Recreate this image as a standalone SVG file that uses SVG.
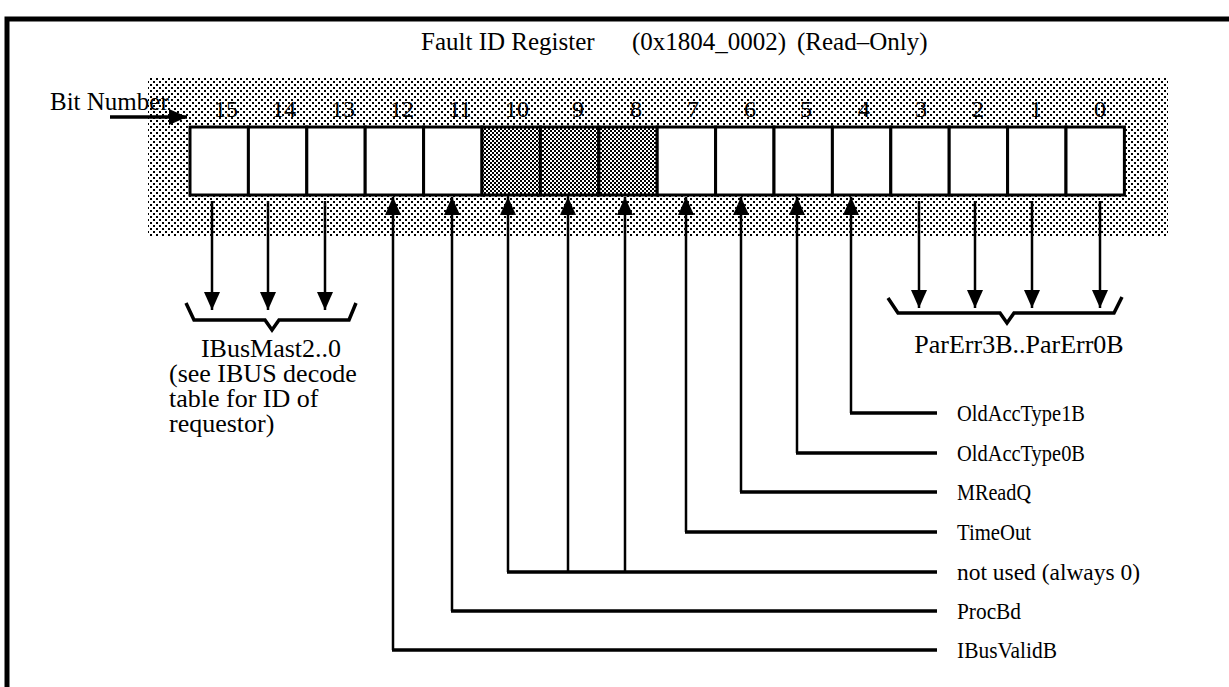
<svg xmlns="http://www.w3.org/2000/svg" width="1229" height="687" viewBox="0 0 1229 687">
<style>
text{font-family:"Liberation Serif","Times New Roman",serif;fill:#000}
.t{font-size:25px}
.n{font-size:24px;text-anchor:middle}
.l{font-size:23px}
.c{font-size:26px}
.box{fill:#fff;stroke:#000;stroke-width:3}
.dk{fill:url(#pd);stroke:#000;stroke-width:3}
.w{fill:none;stroke:#000;stroke-width:2.5}
.h{fill:none;stroke:#000;stroke-width:3.5}
</style>
<defs>
<pattern id="pl" width="6" height="6" patternUnits="userSpaceOnUse"><rect width="6" height="6" fill="#fff"/><rect width="2" height="2" fill="#000"/><rect x="3" y="3" width="2" height="2" fill="#000"/></pattern>
<pattern id="pd" width="4" height="4" patternUnits="userSpaceOnUse"><rect width="4" height="4" fill="#fff"/><rect width="2" height="2" fill="#000"/><rect x="2" y="2" width="2" height="2" fill="#000"/></pattern>
<marker id="ah" viewBox="0 0 18 16" refX="18" refY="8" markerWidth="18" markerHeight="16" markerUnits="userSpaceOnUse" orient="auto"><path d="M0,0 L18,8 L0,16 z" fill="#000"/></marker>
</defs>
<rect width="1229" height="687" fill="#fff"/>
<g id="frame"><path d="M7,687 V19 H1229" fill="none" stroke="#000" stroke-width="5"/></g>
<g id="title"><text class="t" y="50"><tspan x="421">Fault ID Register</tspan><tspan x="632">(0x1804_0002)</tspan><tspan x="797">(Read–Only)</tspan></text></g>
<g id="background"><rect x="148" y="78" width="1020" height="159" fill="url(#pl)"/></g>
<g id="bitlabel"><text x="50" y="110" style="font-size:25px">Bit Number</text></g>
<g id="register">
<g id="bit15"><rect class="box" x="190" y="127" width="58.4" height="68"/><text class="n" x="226" y="117">15</text></g>
<g id="bit14"><rect class="box" x="248.4" y="127" width="58.4" height="68"/><text class="n" x="284" y="117">14</text></g>
<g id="bit13"><rect class="box" x="306.8" y="127" width="58.4" height="68"/><text class="n" x="343" y="117">13</text></g>
<g id="bit12"><rect class="box" x="365.2" y="127" width="58.4" height="68"/><text class="n" x="402" y="117">12</text></g>
<g id="bit11"><rect class="box" x="423.6" y="127" width="58.4" height="68"/><text class="n" x="460" y="117">11</text></g>
<g id="bit10"><rect class="dk" x="482" y="127" width="58.4" height="68"/><text class="n" x="517" y="117">10</text></g>
<g id="bit9"><rect class="dk" x="540.4" y="127" width="58.4" height="68"/><text class="n" x="578" y="117">9</text></g>
<g id="bit8"><rect class="dk" x="598.8" y="127" width="58.4" height="68"/><text class="n" x="636" y="117">8</text></g>
<g id="bit7"><rect class="box" x="657.2" y="127" width="58.4" height="68"/><text class="n" x="693" y="117">7</text></g>
<g id="bit6"><rect class="box" x="715.6" y="127" width="58.4" height="68"/><text class="n" x="750" y="117">6</text></g>
<g id="bit5"><rect class="box" x="774" y="127" width="58.4" height="68"/><text class="n" x="806" y="117">5</text></g>
<g id="bit4"><rect class="box" x="832.4" y="127" width="58.4" height="68"/><text class="n" x="864" y="117">4</text></g>
<g id="bit3"><rect class="box" x="890.8" y="127" width="58.4" height="68"/><text class="n" x="921" y="117">3</text></g>
<g id="bit2"><rect class="box" x="949.2" y="127" width="58.4" height="68"/><text class="n" x="978" y="117">2</text></g>
<g id="bit1"><rect class="box" x="1007.6" y="127" width="58.4" height="68"/><text class="n" x="1036" y="117">1</text></g>
<g id="bit0"><rect class="box" x="1066" y="127" width="58.4" height="68"/><text class="n" x="1100" y="117">0</text></g>
</g>
<g id="connectors">
<path class="h" d="M110,117 H187" marker-end="url(#ah)"/>
<path class="w" d="M212,201 V310" marker-end="url(#ah)"/>
<path class="w" d="M268,201 V310" marker-end="url(#ah)"/>
<path class="w" d="M325,201 V310" marker-end="url(#ah)"/>
<path class="w" d="M919,201 V308" marker-end="url(#ah)"/>
<path class="w" d="M975,201 V308" marker-end="url(#ah)"/>
<path class="w" d="M1032,201 V308" marker-end="url(#ah)"/>
<path class="w" d="M1100,201 V308" marker-end="url(#ah)"/>
<path class="h" d="M186,303 L194,320 H265 L272,330 L279,320 H349 L356,303"/>
<path class="h" d="M888,298 L898,313 H1000 L1007,323 L1014,313 H1114 L1122,297"/>
<path class="w" d="M851,413 V197" marker-end="url(#ah)"/>
<path class="w" d="M797,453 V197" marker-end="url(#ah)"/>
<path class="w" d="M741,492 V197" marker-end="url(#ah)"/>
<path class="w" d="M686,532 V197" marker-end="url(#ah)"/>
<path class="w" d="M508,572 V197" marker-end="url(#ah)"/>
<path class="w" d="M568,572 V197" marker-end="url(#ah)"/>
<path class="w" d="M625,572 V197" marker-end="url(#ah)"/>
<path class="w" d="M452,611 V197" marker-end="url(#ah)"/>
<path class="w" d="M393,650 V197" marker-end="url(#ah)"/>
<path class="h" d="M850,413 H937 M796,453 H937 M740,492 H937 M685,532 H937 M507,572 H937 M451,611 H937 M392,650 H937"/>
</g>
<g id="ibusmast"><text class="c" x="271" y="357" text-anchor="middle">IBusMast2..0</text><text class="c" x="169" y="382">(see IBUS decode</text><text class="c" x="169" y="407">table for ID of</text><text class="c" x="169" y="432">requestor)</text></g>
<g id="parerr"><text class="c" x="1019" y="353" text-anchor="middle">ParErr3B..ParErr0B</text></g>
<g id="lbl-oldacc1"><text class="l" x="957" y="421" textLength="128" lengthAdjust="spacingAndGlyphs">OldAccType1B</text></g>
<g id="lbl-oldacc0"><text class="l" x="957" y="461" textLength="128" lengthAdjust="spacingAndGlyphs">OldAccType0B</text></g>
<g id="lbl-mreadq"><text class="l" x="957" y="500" textLength="74" lengthAdjust="spacingAndGlyphs">MReadQ</text></g>
<g id="lbl-timeout"><text class="l" x="957" y="540" textLength="74" lengthAdjust="spacingAndGlyphs">TimeOut</text></g>
<g id="lbl-notused"><text class="l" x="957" y="580" textLength="183" lengthAdjust="spacingAndGlyphs">not used (always 0)</text></g>
<g id="lbl-procbd"><text class="l" x="957" y="619" textLength="64" lengthAdjust="spacingAndGlyphs">ProcBd</text></g>
<g id="lbl-ibusvalid"><text class="l" x="957" y="658" textLength="100" lengthAdjust="spacingAndGlyphs">IBusValidB</text></g>
</svg>
